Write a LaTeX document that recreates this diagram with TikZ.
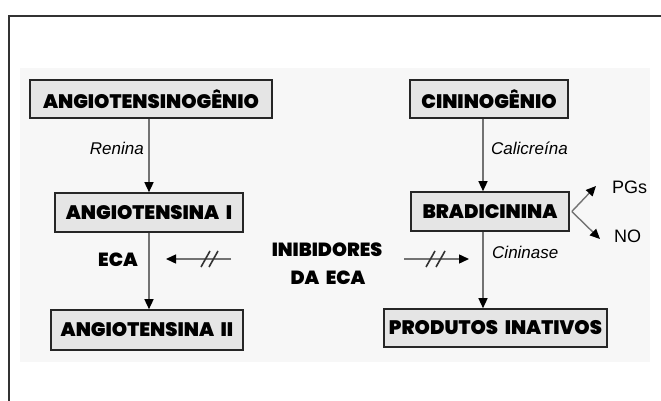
\documentclass[tikz,border=0pt]{standalone}
\usepackage{fontspec}
\setmainfont{Liberation Sans}
\newfontfamily\heavy{Poppins Black}
\usetikzlibrary{arrows.meta}
\begin{document}
\begin{tikzpicture}[x=1pt,y=-1pt,
  box/.style={draw=black!85, line width=1.6pt, fill=black!10, inner sep=0pt, font=\heavy\fontsize{19.5}{22}\selectfont},
  arr/.style={draw=black!55, line width=1.4pt, -{Triangle[length=10pt,width=9pt,fill=black,color=black]}},
  slash/.style={draw=black!80, line width=1.6pt},
  lbl/.style={inner sep=0pt, font=\fontsize{17}{19}\selectfont\itshape},
  hv/.style={inner sep=0pt, font=\heavy\fontsize{19}{22}\selectfont}
]
\useasboundingbox (0,0) rectangle (661,401);
\fill[white] (0,0) rectangle (661,401);
\fill[black!3] (20,68) rectangle (650,362);
\draw[black!80, line width=1.5pt] (9,401) -- (9,16) -- (661,16);

\node[box, minimum width=242pt, minimum height=38pt] (A) at (151,99) {ANGIOTENSINOGÊNIO};
\node[box, minimum width=158pt, minimum height=38pt] (C) at (489,99) {CININOGÊNIO};
\node[box, minimum width=188pt, minimum height=39pt] (AI) at (149,212.5) {ANGIOTENSINA\ \ I};
\node[box, minimum width=158pt, minimum height=39pt] (B) at (490,211.5) {BRADICININA};
\node[box, minimum width=192pt, minimum height=40pt] (AII) at (147,330) {ANGIOTENSINA\ \ II};
\node[box, minimum width=223pt, minimum height=38pt] (P) at (495.5,328) {PRODUTOS\ \ INATIVOS};

\node[lbl, anchor=east] (ren) at (144,148) {Renina};
\node[lbl, anchor=west] (cal) at (491,148) {Calicreína};
\node[lbl, anchor=west] (cin) at (492,252) {Cininase};
\node[hv] (eca) at (118,260) {ECA};
\node[hv] (inib) at (327,250) {INIBIDORES};
\node[hv] (daeca) at (328,278) {DA\ \ ECA};
\node[inner sep=0pt, anchor=west, font=\fontsize{18}{20}\selectfont] (pgs) at (612,187) {PGs};
\node[inner sep=0pt, anchor=west, font=\fontsize{18}{20}\selectfont] (no) at (614,236) {NO};

\draw[arr] (AI.north |- A.south) -- (AI.north);
\draw[arr] (AI.south) -- (AI.south |- AII.north);
\draw[arr] ([xshift=-6pt]C.south) -- ([xshift=-6pt]C.south |- B.north);
\draw[arr] ([xshift=-7pt]B.south) -- ([xshift=-7pt]B.south |- P.north);

\coordinate (l1) at (231,259);
\coordinate (l2) at (166,259);
\coordinate (r1) at (404,259);
\coordinate (r2) at (469,259);
\draw[arr] (l1) -- (l2);
\draw[arr] (r1) -- (r2);
\draw[slash] (201,267) -- (210,251);
\draw[slash] (209,267) -- (218,251);
\draw[slash] (426,267) -- (435,251);
\draw[slash] (436,267) -- (445,251);

\draw[arr] ([xshift=2pt]B.east) -- ([xshift=-16pt,yshift=1pt]pgs.west);
\draw[arr] ([xshift=2pt]B.east) -- ([xshift=-14pt,yshift=-3pt]no.west);
\end{tikzpicture}
\end{document}
